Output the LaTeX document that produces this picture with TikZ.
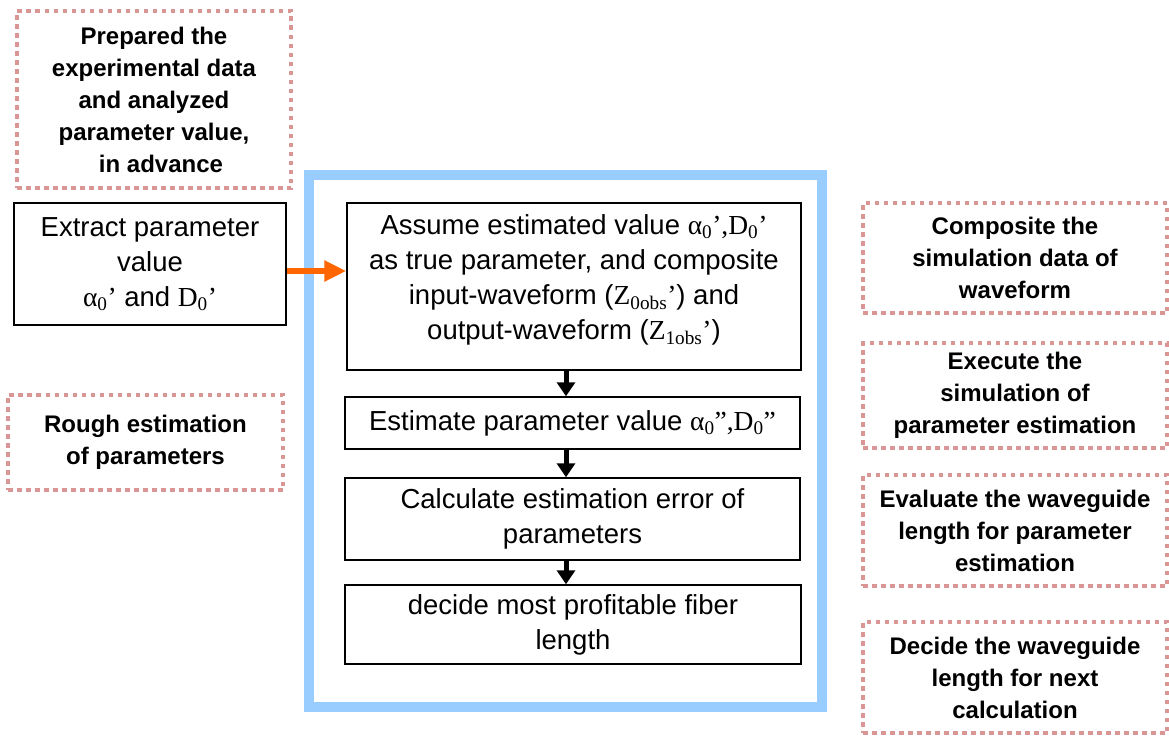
\documentclass[tikz,border=0pt]{standalone}
\usepackage{fontspec}
\setmainfont{Liberation Sans}
\newfontfamily\serifm{Liberation Serif}
\usetikzlibrary{arrows.meta,calc}
\definecolor{dotred}{HTML}{D99694}
\definecolor{frameblue}{HTML}{99CCFF}
\definecolor{arrorange}{HTML}{FF6600}
\newcommand{\gk}[1]{{\serifm #1}}
\tikzset{
  notebox/.style={draw=dotred, line width=4.5pt, dash pattern=on 4.5pt off 4.5pt,
    align=center, font=\fontsize{24}{32}\selectfont\bfseries, inner sep=0pt},
  stepbox/.style={draw=black, line width=1.5pt, fill=white, align=center,
    font=\fontsize{27.5}{35}\selectfont, inner sep=0pt},
  blkarrow/.style={line width=5pt, -{Triangle[length=14pt,width=18pt]}},
  orgarrow/.style={draw=arrorange, line width=6pt, -{Triangle[length=22pt,width=20pt]}}
}
\begin{document}
\begin{tikzpicture}[x=1pt,y=-1pt]
\useasboundingbox (0,0) rectangle (1169,736);
% blue frame
\draw[frameblue, line width=10pt] (309,175) rectangle (822,707);
% dotted note boxes
\node[notebox, minimum width=274pt, minimum height=177pt] (prep) at (154,99.5)
  {Prepared the\\experimental data\\and analyzed\\parameter value,\\\hspace*{14pt}in advance};
\node[notebox, minimum width=275pt, minimum height=95pt] (rough) at (145.5,442.5)
  {Rough estimation\\of parameters};
\node[notebox, minimum width=304pt, minimum height=110pt] (comp) at (1015,258)
  {Composite the\\simulation data of\\waveform};
\node[notebox, minimum width=304pt, minimum height=105pt] (exec) at (1015,395.5)
  {Execute the\\simulation of\\parameter estimation};
\node[notebox, minimum width=304pt, minimum height=111pt] (eval) at (1015,530.5)
  {Evaluate the waveguide\\length for parameter\\estimation};
\node[notebox, minimum width=304pt, minimum height=111pt] (decide) at (1015,677.5)
  {Decide the waveguide\\length for next\\calculation};
% step boxes
\node[stepbox, minimum width=272pt, minimum height=122pt] (extract) at (150,264)
  {Extract parameter\\value\\\gk{α\textsubscript{0}’} and \gk{D\textsubscript{0}’}};
\node[stepbox, minimum width=454pt, minimum height=167pt] (assume) at (574,286.5)
  {Assume estimated value \gk{α\textsubscript{0}’,D\textsubscript{0}’}\\as true parameter, and composite\\input-waveform (\gk{Z\textsubscript{0obs}’}) and\\output-waveform (\gk{Z\textsubscript{1obs}’})\\[-26pt]\strut};
\node[stepbox, minimum width=455pt, minimum height=52pt] (est) at (572.5,423)
  {Estimate parameter value \gk{α\textsubscript{0}”,D\textsubscript{0}”}};
\node[stepbox, minimum width=455pt, minimum height=82pt] (calc) at (572.5,519)
  {Calculate estimation error of\\parameters};
\node[stepbox, minimum width=456pt, minimum height=79pt] (fiber) at (573,624.5)
  {decide most profitable fiber\\length};
% connectors
\draw[orgarrow] ([yshift=-7pt]extract.east) -- ([yshift=-7pt]extract.east -| assume.west);
\draw[blkarrow] ([xshift=-8pt]assume.south) -- ([xshift=-8pt]assume.south |- est.north);
\draw[blkarrow] ([xshift=-6.5pt]est.south) -- ([xshift=-6.5pt]est.south |- calc.north);
\draw[blkarrow] ([xshift=-6.5pt]calc.south) -- ([xshift=-6.5pt]calc.south |- fiber.north);
\end{tikzpicture}
\end{document}
